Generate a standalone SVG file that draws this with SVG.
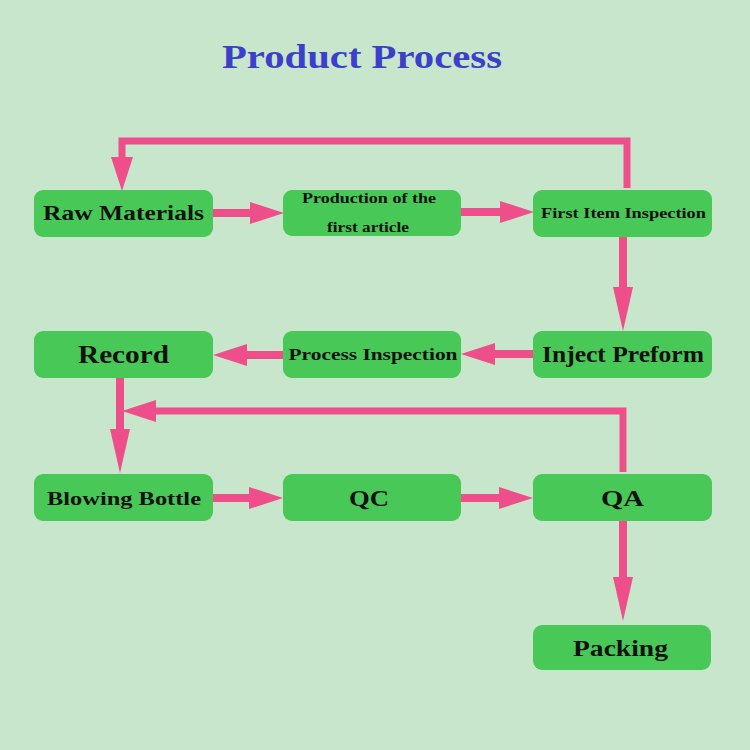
<svg xmlns="http://www.w3.org/2000/svg" width="750" height="750" viewBox="0 0 750 750">
<defs>
<marker id="ah" markerUnits="userSpaceOnUse" markerWidth="34" markerHeight="22" viewBox="0 0 34 22" refX="0" refY="11" orient="auto" overflow="visible">
<path d="M0,0 L34,11 L0,22 Z" fill="#EE4F8A"/>
</marker>
<marker id="ahl" markerUnits="userSpaceOnUse" markerWidth="44" markerHeight="20" viewBox="0 0 44 20" refX="0" refY="10" orient="auto" overflow="visible">
<path d="M0,0 L44,10 L0,20 Z" fill="#EE4F8A"/>
</marker>
<style>
.box{fill:#48C957}
.t{font-family:"Liberation Serif","DejaVu Serif",serif;font-weight:bold;fill:#111;text-anchor:middle}
.c{fill:none;stroke:#EE4F8A;stroke-width:8;stroke-linejoin:miter}
</style>
</defs>
<rect width="750" height="750" fill="#C8E6CC"/>
<text x="362" y="68" font-family="Liberation Serif, DejaVu Serif, serif" font-weight="bold" font-size="34" fill="#3C3FC9" text-anchor="middle" textLength="280" lengthAdjust="spacingAndGlyphs">Product Process</text>
<g id="connectors">
<path class="c" d="M213,213 H250" marker-end="url(#ah)"/>
<path class="c" d="M461,212 H500" marker-end="url(#ah)"/>
<path class="c" d="M627,188 V141 H122 V157" marker-end="url(#ah)" style="stroke-width:7"/>
<path class="c" d="M623,237 V287" marker-end="url(#ahl)"/>
<path class="c" d="M533,354 H495" marker-end="url(#ah)"/>
<path class="c" d="M283,355 H247" marker-end="url(#ah)"/>
<path class="c" d="M120,378 V429" marker-end="url(#ahl)"/>
<path class="c" d="M623,472 V411 H156" marker-end="url(#ah)" style="stroke-width:7"/>
<path class="c" d="M213,498 H249" marker-end="url(#ah)"/>
<path class="c" d="M461,498 H499" marker-end="url(#ah)"/>
<path class="c" d="M623,521 V577" marker-end="url(#ahl)"/>
</g>
<g id="raw"><rect class="box" x="34" y="190" width="179" height="47" rx="9"/><text class="t" x="123.5" y="220" font-size="22" textLength="161" lengthAdjust="spacingAndGlyphs">Raw Materials</text></g>
<g id="production"><rect class="box" x="283" y="190" width="178" height="46" rx="9"/><text class="t" x="369" y="203" font-size="14" textLength="134" lengthAdjust="spacingAndGlyphs">Production of the</text><text class="t" x="368" y="232" font-size="14" textLength="82" lengthAdjust="spacingAndGlyphs">first article</text></g>
<g id="firstitem"><rect class="box" x="533" y="190" width="179" height="47" rx="9"/><text class="t" x="623.5" y="218" font-size="15" textLength="165" lengthAdjust="spacingAndGlyphs">First Item Inspection</text></g>
<g id="record"><rect class="box" x="34" y="331" width="179" height="47" rx="9"/><text class="t" x="123.5" y="363" font-size="25" textLength="91" lengthAdjust="spacingAndGlyphs">Record</text></g>
<g id="processinsp"><rect class="box" x="283" y="331" width="178" height="47" rx="9"/><text class="t" x="373" y="360" font-size="17" textLength="169" lengthAdjust="spacingAndGlyphs">Process Inspection</text></g>
<g id="inject"><rect class="box" x="533" y="331" width="179" height="47" rx="9"/><text class="t" x="623" y="362" font-size="23" textLength="162" lengthAdjust="spacingAndGlyphs">Inject Preform</text></g>
<g id="blowing"><rect class="box" x="34" y="474" width="179" height="47" rx="9"/><text class="t" x="124" y="505" font-size="19" textLength="154" lengthAdjust="spacingAndGlyphs">Blowing Bottle</text></g>
<g id="qc"><rect class="box" x="283" y="474" width="178" height="47" rx="9"/><text class="t" x="369" y="506" font-size="23" textLength="40" lengthAdjust="spacingAndGlyphs">QC</text></g>
<g id="qa"><rect class="box" x="533" y="474" width="179" height="47" rx="9"/><text class="t" x="622.5" y="506" font-size="23" textLength="43" lengthAdjust="spacingAndGlyphs">QA</text></g>
<g id="packing"><rect class="box" x="533" y="625" width="178" height="45" rx="9"/><text class="t" x="620.5" y="656" font-size="23" textLength="95" lengthAdjust="spacingAndGlyphs">Packing</text></g>
</svg>
